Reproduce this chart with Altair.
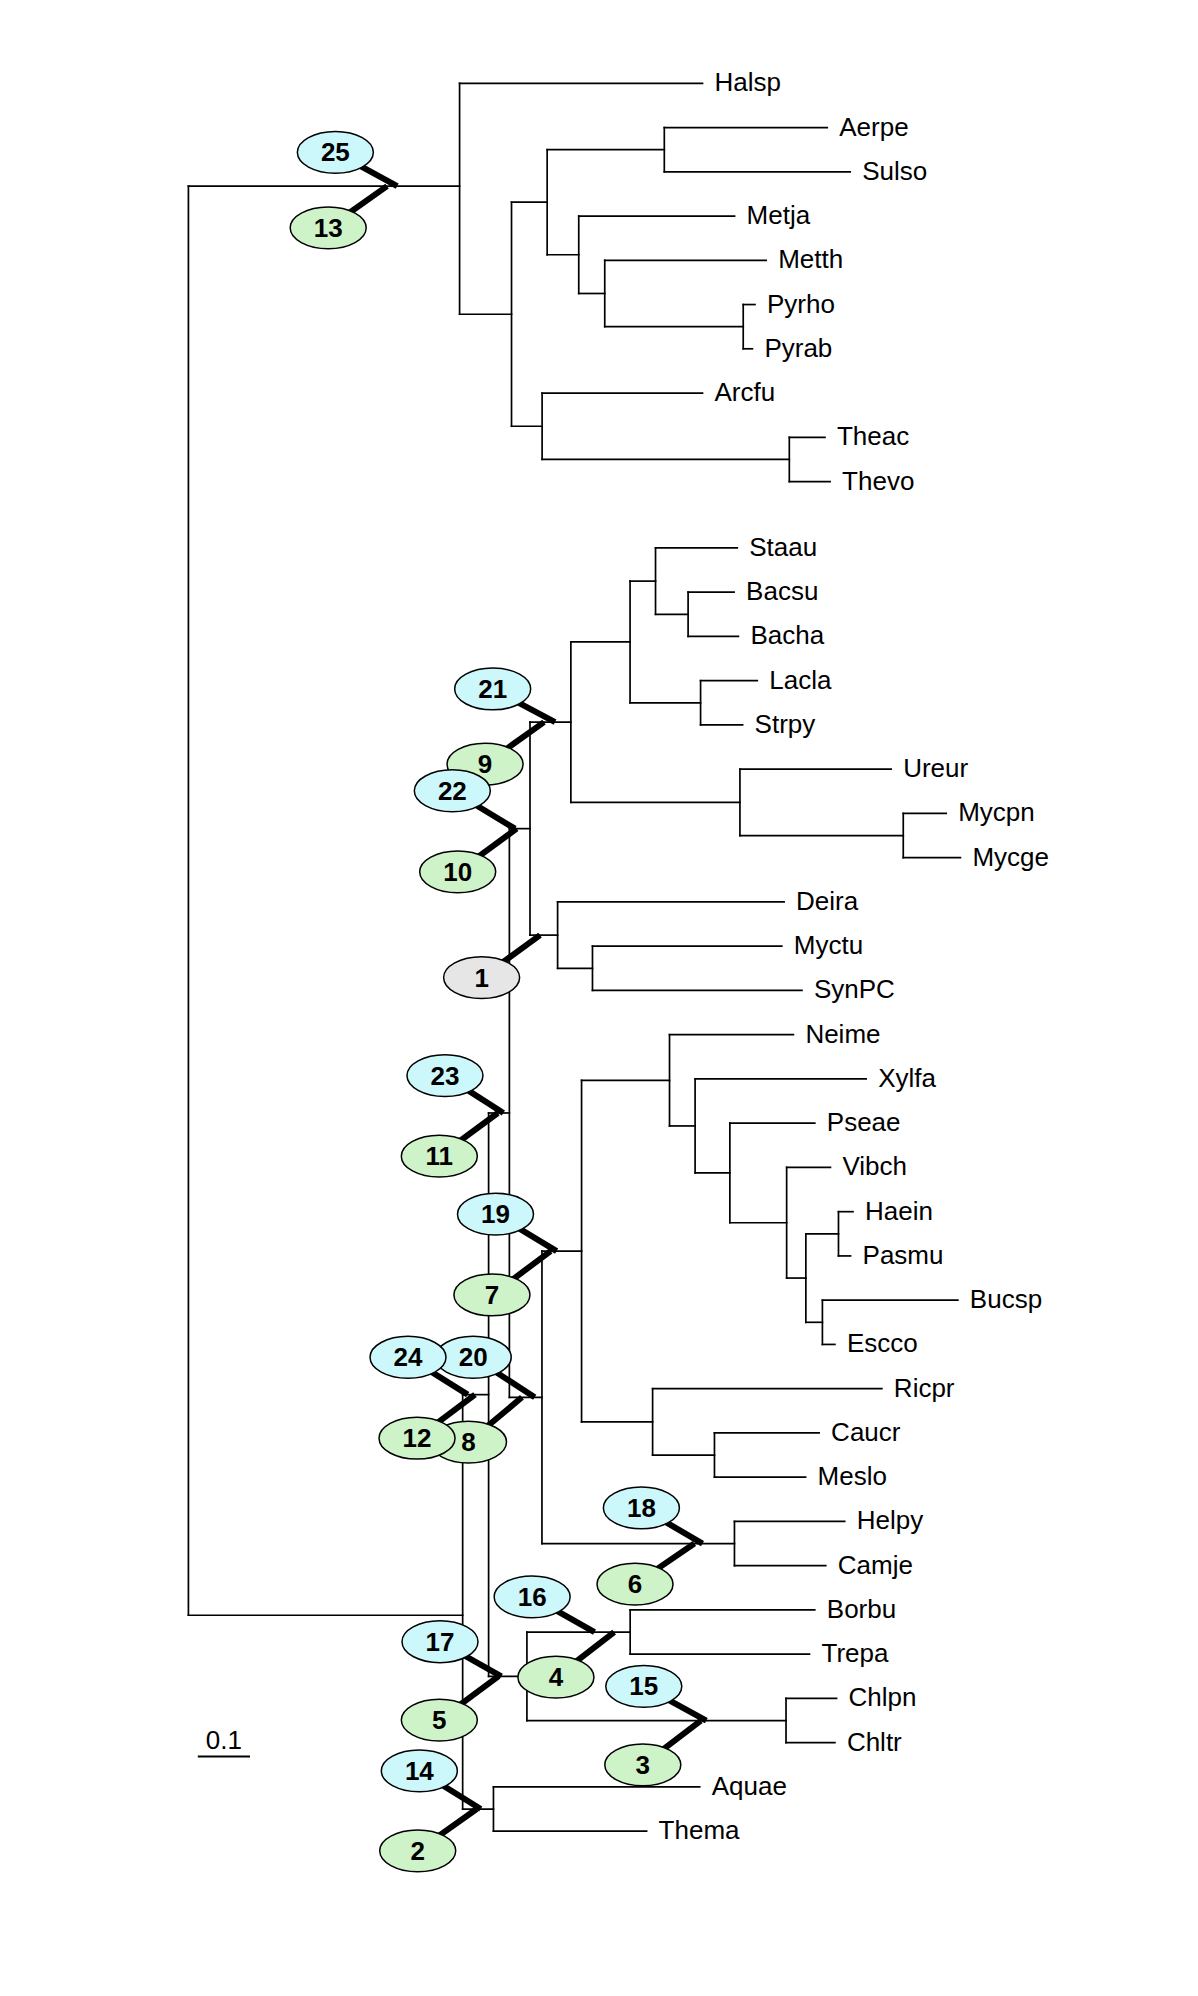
import altair as alt
import pandas as pd

# ---------------- tree data (depth = distance from root, substitutions/site) ----
node_names = ["Root", "Arc", "Halsp", "A2", "A3", "AS", "Aerpe", "Sulso", "M1", "Metja",
              "M2", "Metth", "Pyr", "Pyrho", "Pyrab", "A4", "Arcfu", "Thp", "Theac", "Thevo",
              "Bac", "N384", "N400", "FD", "F", "F1", "F2", "Staau", "Bac2", "Bacsu",
              "Bacha", "LS", "Lacla", "Strpy", "Mol", "Ureur", "Myc", "Mycpn", "Mycge", "D",
              "Deira", "AC", "Myctu", "SynPC", "PE", "Pro", "GB", "Neime", "G1", "Xylfa",
              "G2", "Pseae", "G3", "Vibch", "G4", "HP", "Haein", "Pasmu", "BE", "Bucsp",
              "Escco", "Alp", "Ricpr", "CM", "Caucr", "Meslo", "Eps", "Helpy", "Camje", "N413",
              "Spi", "Borbu", "Trepa", "Chl", "Chlpn", "Chltr", "AT", "Aquae", "Thema"]
node_parents = [None, "Root", "Arc", "Arc", "A2", "A3", "AS", "AS", "A3", "M1",
                "M1", "M2", "M2", "Pyr", "Pyr", "A2", "A4", "A4", "Thp", "Thp",
                "Root", "Bac", "N384", "N400", "FD", "F", "F1", "F2", "F2", "Bac2",
                "Bac2", "F1", "LS", "LS", "F", "Mol", "Mol", "Myc", "Myc", "FD",
                "D", "D", "AC", "AC", "N400", "PE", "Pro", "GB", "GB", "G1",
                "G1", "G2", "G2", "G3", "G3", "G4", "HP", "HP", "G4", "BE",
                "BE", "Pro", "Alp", "Alp", "CM", "CM", "PE", "Eps", "Eps", "N384",
                "N413", "Spi", "Spi", "N413", "Chl", "Chl", "Bac", "AT", "AT"]
node_depths = [0.0, 0.5195, 0.9849, 0.6190, 0.6873, 0.9117, 1.2239, 1.2678, 0.7478, 1.0463,
               0.7976, 1.1068, 1.0629, 1.0854, 1.0805, 0.6776, 0.9849, 1.1512, 1.2195, 1.2293,
               0.5254, 0.5751, 0.6149, 0.6544, 0.7327, 0.8461, 0.8949, 1.0515, 0.9573, 1.0454,
               1.0537, 0.9812, 1.0898, 1.0617, 1.0566, 1.3463, 1.3695, 1.4517, 1.4790, 0.7073,
               1.1412, 0.7741, 1.1368, 1.1754, 0.6773, 0.7532, 0.9217, 1.1590, 0.9707, 1.2985,
               1.0373, 1.2000, 1.1461, 1.2300, 1.1829, 1.2454, 1.2732, 1.2685, 1.2146, 1.4741,
               1.2385, 0.8893, 1.3285, 1.0078, 1.2083, 1.1824, 1.0461, 1.2573, 1.2210, 0.6485,
               0.8463, 1.2000, 1.1898, 1.1449, 1.2417, 1.2385, 0.5844, 0.9795, 0.8778]

leaf_names = ["Halsp", "Aerpe", "Sulso", "Metja", "Metth", "Pyrho", "Pyrab", "Arcfu", "Theac", "Thevo",
              "Staau", "Bacsu", "Bacha", "Lacla", "Strpy", "Ureur", "Mycpn", "Mycge", "Deira", "Myctu",
              "SynPC", "Neime", "Xylfa", "Pseae", "Vibch", "Haein", "Pasmu", "Bucsp", "Escco", "Ricpr",
              "Caucr", "Meslo", "Helpy", "Camje", "Borbu", "Trepa", "Chlpn", "Chltr", "Aquae", "Thema"]
leaf_rows = [0, 1, 2, 3, 4, 5, 6, 7, 8, 9,
             10.5, 11.5, 12.5, 13.5, 14.5, 15.5, 16.5, 17.5, 18.5, 19.5,
             20.5, 21.5, 22.5, 23.5, 24.5, 25.5, 26.5, 27.5, 28.5, 29.5,
             30.5, 31.5, 32.5, 33.5, 34.5, 35.5, 36.5, 37.5, 38.5, 39.5]
# rows where the root's two branches join their subtrees
root_join_names = ["Arc", "Bac"]
root_join_rows = [2.324, 34.62]

# ---------------- branch annotations -------------------------------------------
ann_numbers = [25, 13, 21, 9, 22, 10, 1, 23, 11, 19, 7, 24, 20, 12, 8, 18, 6, 16, 4, 17, 5, 15, 3, 14, 2]
ann_kinds = ["c", "g", "c", "g", "c", "g", "n", "c", "g", "c", "g", "c", "c", "g", "g",
             "c", "g", "c", "g", "c", "g", "c", "g", "c", "g"]
ann_branch = ["Arc", "Arc", "F", "F", "FD", "FD", "D", "N400", "N400", "Pro", "Pro", "N384", "PE",
              "N384", "PE", "Eps", "Eps", "Spi", "Spi", "N413", "N413", "Chl", "Chl", "AT", "AT"]
ann_ell_depth = [0.2815, 0.2678, 0.5829, 0.5683, 0.5056, 0.5159, 0.5617, 0.4915, 0.4807, 0.5883,
                 0.5815, 0.4207, 0.5456, 0.4380, 0.5366, 0.8678, 0.8556, 0.6585, 0.7041, 0.4820,
                 0.4807, 0.8724, 0.8705, 0.4424, 0.4393]
ann_ell_row = [1.561, 3.266, 13.687, 15.386, 15.988, 17.820, 20.210, 22.425, 24.245, 25.556,
               27.382, 28.790, 28.790, 30.619, 30.706, 32.195, 33.917, 34.205, 36.020, 35.219,
               36.990, 36.227, 38.001, 38.136, 39.945]
ann_bar_depth = [0.4000, 0.3805, 0.7024, 0.6812, 0.6256, 0.6288, 0.6737, 0.6034, 0.5927, 0.7054,
                 0.6939, 0.5351, 0.6634, 0.5490, 0.6390, 0.9849, 0.9693, 0.7780, 0.8156, 0.5995,
                 0.5937, 0.9922, 0.9817, 0.5600, 0.5522]
ann_on_top = [22, 12, 24]

scalebar_start = 0.018
scalebar_length = 0.1
scalebar_row = 37.81

# ---------------- layout ----------------------------------------------------------
parent = dict(zip(node_names, node_parents))
depth = dict(zip(node_names, node_depths))
children = {n: [] for n in node_names}
for n, p in zip(node_names, node_parents):
    if p is not None:
        children[p].append(n)
row = dict(zip(leaf_names, leaf_rows))


def place(n):
    if not children[n]:
        return row[n]
    ys = [place(c) for c in children[n]]
    row[n] = (min(ys) + max(ys)) / 2
    return row[n]


place("Root")
for n, r in zip(root_join_names, root_join_rows):
    row[n] = r

edges = []
for n in node_names:
    p = parent[n]
    if p is not None:
        edges.append({"x": depth[p], "x2": depth[n], "y": row[n], "y2": row[n]})
    if children[n]:
        ys = [row[c] for c in children[n]]
        edges.append({"x": depth[n], "x2": depth[n], "y": min(ys), "y2": max(ys)})
edges_df = pd.DataFrame(edges)

labels_df = pd.DataFrame({"name": leaf_names,
                          "x": [depth[n] for n in leaf_names],
                          "y": [row[n] for n in leaf_names]})

ann_df = pd.DataFrame({
    "num": ann_numbers,
    "label": [str(v) for v in ann_numbers],
    "kind": ann_kinds,
    "ex": ann_ell_depth,
    "ey": ann_ell_row,
    "bx": ann_bar_depth,
    "by": [row[b] for b in ann_branch],
    "top": [v in ann_on_top for v in ann_numbers],
})

sb_df = pd.DataFrame({"x": [scalebar_start], "x2": [scalebar_start + scalebar_length],
                      "xm": [scalebar_start + scalebar_length / 2],
                      "y": [scalebar_row], "label": ["0.1"]})

# ---------------- chart ------------------------------------------------------------
W, H = 1170, 1960
xs = alt.Scale(domain=[-0.34565, 1.89585], nice=False, zero=False)
ys = alt.Scale(domain=[-1.7017, 42.592], nice=False, zero=False, reverse=True)
X = lambda f: alt.X(f, type="quantitative", scale=xs, axis=None)
Y = lambda f: alt.Y(f, type="quantitative", scale=ys, axis=None)

FONT = "Liberation Sans"
ELLIPSE = ("M 1 0 C 1 0.3038 0.5523 0.55 0 0.55 C -0.5523 0.55 -1 0.3038 -1 0 "
           "C -1 -0.3038 -0.5523 -0.55 0 -0.55 C 0.5523 -0.55 1 -0.3038 1 0 Z")
fill_scale = alt.Scale(domain=["c", "g", "n"], range=["#cdf8fb", "#cff3c8", "#e6e6e6"])

tree = alt.Chart(edges_df).mark_rule(color="black", strokeWidth=1.7, strokeCap="square").encode(
    x=X("x"), x2="x2", y=Y("y"), y2="y2")

leaf_text = alt.Chart(labels_df).mark_text(
    align="left", baseline="middle", dx=12, fontSize=26, font=FONT, color="black").encode(
    x=X("x"), y=Y("y"), text="name")

bars = alt.Chart(ann_df).mark_rule(color="black", strokeWidth=6, strokeCap="butt").encode(
    x=X("ex"), y=Y("ey"), x2="bx", y2="by")


def ellipses(top):
    base = alt.Chart(ann_df).transform_filter(
        alt.datum.top if top else ~alt.datum.top)
    e = base.mark_point(shape=ELLIPSE, size=5776, filled=True, opacity=1,
                        stroke="black", strokeWidth=1.5).encode(
        x=X("ex"), y=Y("ey"), fill=alt.Fill("kind:N", scale=fill_scale, legend=None))
    t = base.mark_text(fontSize=26, fontWeight="bold", font=FONT, align="center",
                       baseline="middle", dy=1, color="black").encode(
        x=X("ex"), y=Y("ey"), text="label")
    return e + t


sb_rule = alt.Chart(sb_df).mark_rule(color="black", strokeWidth=2).encode(
    x=X("x"), x2="x2", y=Y("y"))
sb_text = alt.Chart(sb_df).mark_text(fontSize=26, font=FONT, align="center",
                                     baseline="alphabetic", dy=-7, color="black").encode(
    x=X("xm"), y=Y("y"), text="label")

chart = alt.layer(tree, bars, ellipses(False), ellipses(True), leaf_text, sb_rule, sb_text).properties(
    width=W, height=H, padding=0, autosize=alt.AutoSizeParams(type="none"),
    background="white"
).configure_view(stroke=None)

chart.save("out.html", embed_options={"renderer": "svg", "actions": False})
